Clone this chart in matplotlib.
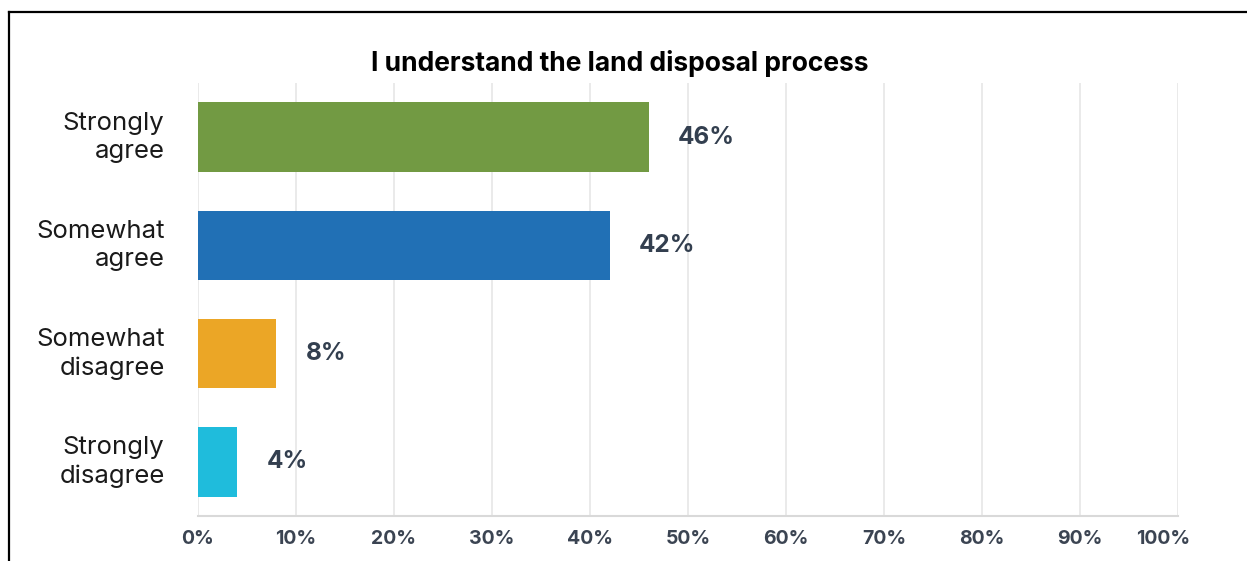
import matplotlib.pyplot as plt
from matplotlib.lines import Line2D
from matplotlib.ticker import PercentFormatter
from matplotlib.transforms import ScaledTranslation

plt.rcParams['font.family'] = ['Inter', 'DejaVu Sans']

categories = ["Strongly\nagree", "Somewhat\nagree", "Somewhat\ndisagree", "Strongly\ndisagree"]
percents = [46, 42, 8, 4]
colors = ["#729a43", "#2170b5", "#eba626", "#1fbcdc"]
title = "I understand the land disposal process"

fig = plt.figure(figsize=(12.47, 5.61), dpi=100)
ax = fig.add_axes([198 / 1247, 45 / 561, 980 / 1247, 433 / 561])

y = list(range(len(categories)))
ax.barh(y, percents, height=0.64, color=colors, zorder=3)
for yi, p in zip(y, percents):
    ax.text(p + 3.0, yi, f"{p}%", va="center", ha="left", fontsize=17.5,
            fontweight="bold", color="#333f4f")

ax.set_xlim(0, 100)
ax.set_ylim(len(categories) - 0.5, -0.5)
ax.set_xticks(range(0, 101, 10))
ax.xaxis.set_major_formatter(PercentFormatter(decimals=0))
ax.set_yticks(y)
ax.set_yticklabels(categories, fontsize=18.5, color="#1a1a1a", linespacing=1.3)
ax.tick_params(axis="y", length=0, pad=24)
ax.tick_params(axis="x", length=0, pad=10, labelsize=14, labelcolor="#3b4452")
for lbl in ax.get_yticklabels():
    lbl.set_transform(lbl.get_transform() + ScaledTranslation(0, 0.05, fig.dpi_scale_trans))
for lbl in ax.get_xticklabels():
    lbl.set_fontweight("bold")
# keep the last tick label inside the frame
last = ax.get_xticklabels()[-1]
last.set_transform(last.get_transform() + ScaledTranslation(-0.15, 0, fig.dpi_scale_trans))

ax.grid(axis="x", color="#e6e6e6", linewidth=1.2, zorder=0)
for side in ["top", "right", "left"]:
    ax.spines[side].set_visible(False)
ax.spines["bottom"].set_color("#d9d9d9")
ax.spines["bottom"].set_linewidth(1.5)

fig.text(0.497, 1 - 64 / 561, title, ha="center", va="center", fontsize=19,
         fontweight="bold", color="#000000")

# frame lines along the top and left edges
fig.add_artist(Line2D([9 / 1247, 1], [1 - 12 / 561, 1 - 12 / 561],
                      transform=fig.transFigure, color="black", linewidth=1.6))
fig.add_artist(Line2D([9 / 1247, 9 / 1247], [0, 1 - 12 / 561],
                      transform=fig.transFigure, color="black", linewidth=1.6))

fig.savefig("out.png", dpi=100)
